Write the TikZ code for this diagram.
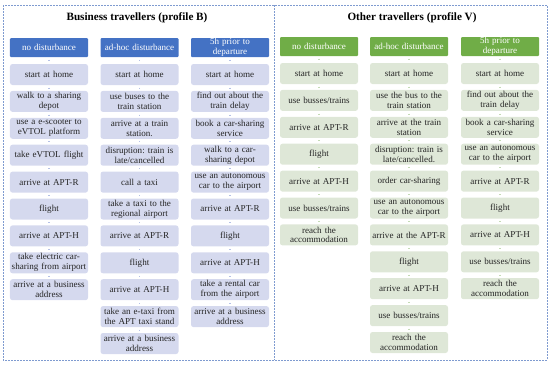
\documentclass[tikz,border=0pt]{standalone}
\usepackage{fontspec}
\setmainfont{Liberation Serif}
\frenchspacing
\definecolor{hblue}{HTML}{4472C4}
\definecolor{lblue}{HTML}{D5D9EE}
\definecolor{hgreen}{HTML}{70AD47}
\definecolor{lgreen}{HTML}{DEE7D7}
\definecolor{txt}{HTML}{262626}
\definecolor{cconnB}{HTML}{B4C0E6}
\definecolor{cconnV}{HTML}{C4DBB5}
\definecolor{bord}{HTML}{7F9BD0}
\tikzset{
  boxtext/.style={font=\fontsize{9.1}{10}\selectfont, align=center, text width=78bp, inner sep=0pt, minimum width=78bp},
  hdrB/.style={boxtext, fill=hblue, text=white, minimum height=19bp, rounded corners=1bp},
  hdrV/.style={boxtext, fill=hgreen, text=white, minimum height=19bp, rounded corners=1bp},
  boxB/.style={boxtext, fill=lblue, text=txt, minimum height=21bp, rounded corners=2.5bp},
  boxV/.style={boxtext, fill=lgreen, text=txt, minimum height=21bp, rounded corners=2.5bp},
  connB/.style={draw=cconnB, line width=1.4bp, shorten >=2.4bp, shorten <=2.4bp},
  connV/.style={draw=cconnV, line width=1.4bp, shorten >=2.4bp, shorten <=2.4bp},
  paneltitle/.style={font=\bfseries\fontsize{11.2}{13}\selectfont, text=black},
  border/.style={draw=bord, line width=0.9bp, dash pattern=on 1.8bp off 1.2bp},
}
% #1 name, #2 x, #3 panel (B/V), #4 header y, #5 first row y, #6 header text, #7 list
\newcommand\flowcol[7]{%
  \node[hdr#3] (#1-0) at (#2,#4) {#6};
  \foreach \t [count=\i] in {#7} {
    \node[box#3] (#1-\i) at (#2,{#5+26.9*(\i-1)}) {\t};
    \pgfmathtruncatemacro\prv{\i-1}
    \draw[conn#3] (#1-\prv) -- (#1-\i);
  }
}
\begin{document}
\begin{tikzpicture}[x=1bp,y=-1bp]
\useasboundingbox (0,0) rectangle (550,364);
\draw[border] (3,5) rectangle (547,360);
\draw[border] (274,5) -- (274,360);
\node[paneltitle] (tB) at (137,17.5) {Business travellers (profile B)};
\node[paneltitle] (tV) at (412,17.5) {Other travellers (profile V)};

\flowcol{b1}{49}{B}{47.5}{74.5}{no disturbance}{start at home, walk to a sharing\\depot, use a e-scooter to\\eVTOL platform, take eVTOL flight, arrive at APT-R, flight, arrive at APT-H, take electric car-\\sharing from airport, arrive at a business\\address}
\flowcol{b2}{139.5}{B}{47.5}{74.5}{ad-hoc disturbance}{start at home, use buses to the\\train station, arrive at a train\\station., disruption: train is\\late/cancelled, call a taxi, take a taxi to the\\regional airport, arrive at APT-R, flight, arrive at APT-H, take an e-taxi from\\the APT taxi stand, arrive at a business\\address}
\flowcol{b3}{230}{B}{47.5}{74.5}{5h prior to\\departure}{start at home, find out about the\\train delay, book a car-sharing\\service, walk to a car-\\sharing depot, use an autonomous\\car to the airport, arrive at APT-R, flight, arrive at APT-H, take a rental car\\from the airport, arrive at a business\\address}

\flowcol{v1}{319}{V}{46.5}{73.5}{no disturbance}{start at home, use busses/trains, arrive at APT-R, flight, arrive at APT-H, use busses/trains, reach the\\accommodation}
\flowcol{v2}{409}{V}{46.5}{73.5}{ad-hoc disturbance}{start at home, use the bus to the\\train station, arrive at the train\\station, disruption: train is\\late/cancelled., order car-sharing, use an autonomous\\car to the airport, arrive at the APT-R, flight, arrive at APT-H, use busses/trains, reach the\\accommodation}
\flowcol{v3}{500}{V}{46.5}{73.5}{5h prior to\\departure}{start at home, find out about the\\train delay, book a car-sharing\\service, use an autonomous\\car to the airport, arrive at APT-R, flight, arrive at APT-H, use busses/trains, reach the\\accommodation}
\end{tikzpicture}
\end{document}
